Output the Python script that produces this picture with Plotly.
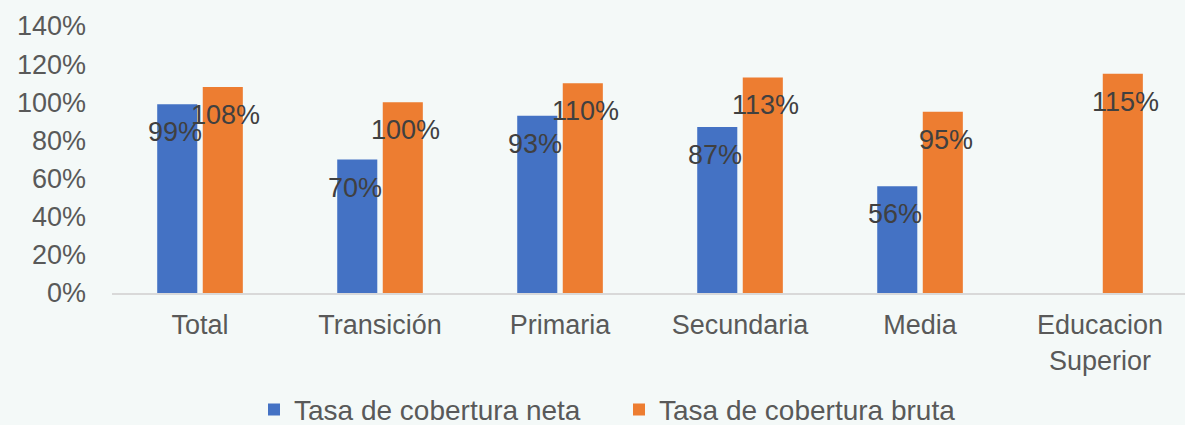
import plotly.graph_objects as go

categories = ["Total", "Transición", "Primaria", "Secundaria", "Media", "Educacion<br>Superior"]
neta = [0.99, 0.70, 0.93, 0.87, 0.56, None]
bruta = [1.08, 1.00, 1.10, 1.13, 0.95, 1.15]
series_names = ["Tasa de cobertura neta", "Tasa de cobertura bruta"]
y_ticks = [0, 0.2, 0.4, 0.6, 0.8, 1.0, 1.2, 1.4]

FONT = "Arial, 'Liberation Sans', sans-serif"
BLUE = "#4472c4"
ORANGE = "#ed7d31"

fig = go.Figure()
fig.add_trace(go.Bar(x=categories, y=neta, name=series_names[0], marker_color=BLUE,
                     marker_line_width=0))
fig.add_trace(go.Bar(x=categories, y=bruta, name=series_names[1], marker_color=ORANGE,
                     marker_line_width=0))

annotations = []
for vals, shift in ((neta, -25.5), (bruta, 25.5)):
    for c, v in zip(categories, vals):
        if v is None:
            continue
        annotations.append(dict(x=c, y=v, xref="x", yref="y", text=f"{round(v*100)}%",
                                showarrow=False, xshift=shift, yshift=-28,
                                yanchor="middle", xanchor="center",
                                font=dict(family=FONT, size=27, color="#404040")))

fig.update_layout(
    width=1185, height=425,
    margin=dict(l=112, r=0, t=26, b=132),
    paper_bgcolor="#f4f9f8", plot_bgcolor="#f4f9f8",
    barmode="group", bargap=0.494, bargroupgap=0.12,
    font=dict(family=FONT, size=27, color="#595959"),
    annotations=annotations,
    showlegend=True,
    legend=dict(orientation="h", xref="container", yref="container",
                x=254 / 1185, xanchor="left", y=0.036, yanchor="middle",
                entrywidth=320,
                font=dict(family=FONT, size=28, color="#595959"),
                bgcolor="rgba(0,0,0,0)", traceorder="normal"),
    xaxis=dict(range=[-0.489, 5.472], showgrid=False, zeroline=False,
               showline=True, linecolor="#d9d9d9", linewidth=2,
               ticks="", ticklabelstandoff=7,
               tickfont=dict(family=FONT, size=27, color="#595959")),
    yaxis=dict(range=[0, 1.4], tickvals=y_ticks, tickformat=".0%",
               showgrid=False, zeroline=False, showline=False, ticks="",
               ticklabelstandoff=25,
               tickfont=dict(family=FONT, size=27, color="#595959")),
)

fig.write_html("out.html", config={"displayModeBar": False},
               post_script="document.body.style.margin='0';")
